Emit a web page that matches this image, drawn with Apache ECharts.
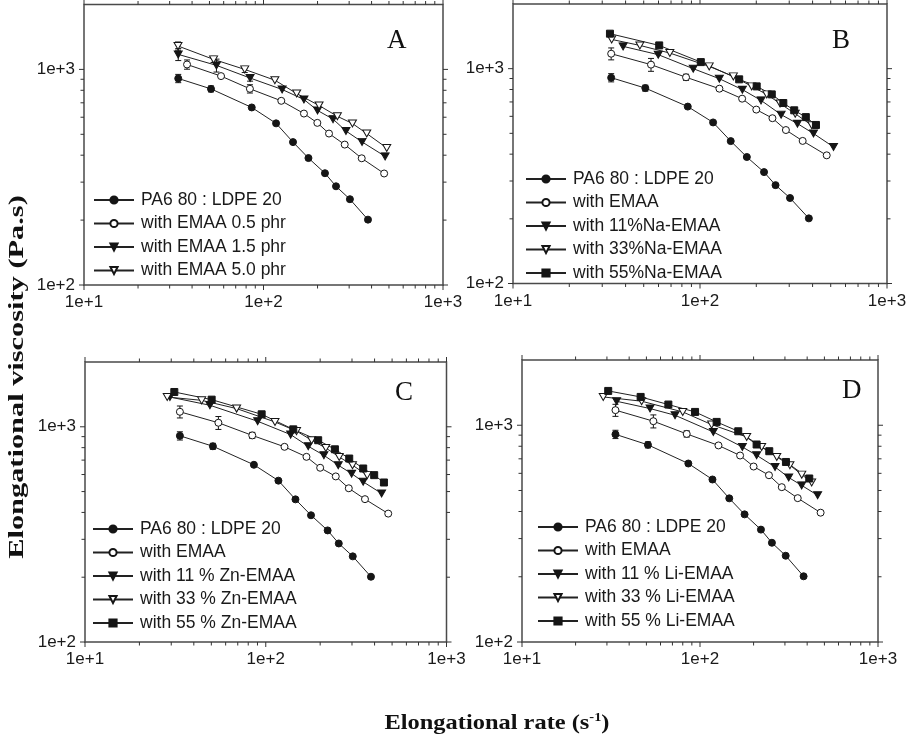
<!DOCTYPE html>
<html><head><meta charset="utf-8">
<script src="https://cdn.jsdelivr.net/npm/echarts@6/dist/echarts.min.js"></script>
<style>html,body{margin:0;padding:0;background:#fff}#c{width:912px;height:746px}</style>
</head><body><div id="c"></div>
<script>
// ---------- data (elongational rate s^-1, elongational viscosity Pa.s) ----------
const pa6Rate = [33.5, 51, 86, 117.5, 146, 178, 220, 253.5, 303, 382];
const pa6Visc = [908, 812, 666, 562, 460, 388, 330, 287, 250, 201];
const pa6Err  = [40, 26, 0, 0, 0, 0, 0, 0, 0, 0];

const emaa05Rate = [37.5, 58, 84, 125.6, 168, 199.5, 231.7, 283.5, 352.5, 470];
const emaa05Visc = [1054, 931, 813, 715, 624, 565, 504, 448, 387, 329];
const emaa05Err  = [52, 0, 36, 0, 0, 0, 0, 0, 0, 0];

const emaa15Rate = [33.5, 54.7, 84.2, 127, 168, 200, 244, 288, 354, 476];
const emaa15Visc = [1174, 1044, 912, 807, 725, 645, 588, 518, 461, 395];
const emaa15Err  = [75, 72, 30, 0, 0, 0, 0, 0, 0, 0];

const emaa50Rate = [33.4, 52.7, 78.6, 115.7, 153, 204, 258, 313, 376, 486];
const emaa50Visc = [1284, 1113, 1000, 891, 773, 680, 606, 561, 504, 432];
const emaa50Err  = [56, 37, 33, 0, 0, 0, 0, 0, 0, 0];

const na11Rate = [38.8, 59.8, 92, 126.9, 168.5, 212, 271.5, 332, 404.5, 517.6];
const na11Visc = [1270, 1162, 1000, 898, 799, 712, 611, 555, 499, 432];
const na33Rate = [33.7, 47.7, 69, 112, 150.8, 189, 227.6, 268, 323, 396];
const na33Visc = [1368, 1283, 1182, 1025, 921, 827, 759, 688, 617, 545];
const na55Rate = [33, 60.5, 101, 162, 201, 242, 279, 319, 368, 417];
const na55Visc = [1455, 1283, 1073, 892, 827, 759, 692, 640, 595, 547];

const zn11Rate = [29.5, 49.1, 90.2, 137.3, 171.8, 209.8, 251.8, 298.6, 346, 437.5];
const zn11Visc = [1375, 1259, 1061, 920, 812, 737, 663, 606, 555, 490];
const zn33Rate = [28.5, 44.2, 69, 112.5, 148, 179.4, 215, 255, 302, 364];
const zn33Visc = [1375, 1327, 1215, 1053, 955, 866, 797, 724, 663, 596];
const zn55Rate = [31.2, 50.2, 94.9, 142, 195, 241.3, 289.6, 346, 398, 450.6];
const zn55Visc = [1451, 1337, 1143, 973, 866, 786, 712, 640, 596, 551];

const li11Rate = [34, 52.4, 72.4, 118.8, 173, 208, 264, 315, 372.5, 458];
const li11Visc = [1290, 1194, 1112, 931, 794, 727, 642, 574, 528, 475];
const li33Rate = [28.6, 47, 80, 116.3, 183, 222, 270, 320, 373, 424];
const li33Visc = [1351, 1291, 1152, 1007, 883, 794, 714, 654, 592, 544];
const li55Rate = [30.5, 46.4, 66.4, 93.8, 124, 164, 208, 245, 304, 411];
const li55Visc = [1440, 1351, 1246, 1152, 1036, 938, 815, 759, 677, 568];

// ---------- labels / ticks ----------
const panelLetters = ['A', 'B', 'C', 'D'];
const xTickValues = [10, 100, 1000];
const xTickLabels = ['1e+1', '1e+2', '1e+3'];
const yTickValues = [100, 1000];
const yTickLabels = ['1e+2', '1e+3'];
const xMinorTicks = [20, 30, 40, 50, 60, 70, 80, 90, 200, 300, 400, 500, 600, 700, 800, 900];
const yMinorTicks = [200, 300, 400, 500, 600, 700, 800, 900];
const yTitle = 'Elongational viscosity (Pa.s)';
const xTitle = 'Elongational rate (s';

const legendNames = [
  ['PA6 80 : LDPE 20', 'with EMAA 0.5 phr', 'with EMAA 1.5 phr', 'with EMAA 5.0 phr'],
  ['PA6 80 : LDPE 20', 'with EMAA', 'with 11%Na-EMAA', 'with 33%Na-EMAA', 'with 55%Na-EMAA'],
  ['PA6 80 : LDPE 20', 'with EMAA', 'with 11 % Zn-EMAA', 'with 33 % Zn-EMAA', 'with 55 % Zn-EMAA'],
  ['PA6 80 : LDPE 20', 'with EMAA', 'with 11 % Li-EMAA', 'with 33 % Li-EMAA', 'with 55 % Li-EMAA']
];

// ---------- layout ----------
const grids = [
  {left: 84, top: 4.5, width: 359, height: 280.5},
  {left: 513, top: 4, width: 374, height: 279.5},
  {left: 85, top: 362, width: 361.5, height: 280},
  {left: 522, top: 360, width: 356, height: 282}
];
const legendPos = [
  {left: 93, top: 191}, {left: 525, top: 170}, {left: 92, top: 520}, {left: 537, top: 518}
];
const letterPos = [[397, 41], [842, 41], [405, 393], [852, 391]];

const TRI_DOWN = 'path://M0,0L10,0L5,9Z';
const INK = '#151515';

function lineSeries(name, rates, visc, symbol, filled, gi) {
  return {
    type: 'line', name: name, xAxisIndex: gi, yAxisIndex: gi,
    data: rates.map((r, i) => [r, visc[i]]),
    symbol: symbol, symbolSize: symbol === 'circle' ? 7 : (symbol === 'rect' ? 7 : [8, 7]),
    showSymbol: true, animation: false, z: 3,
    lineStyle: {color: '#222', width: 1},
    itemStyle: {color: filled ? INK : '#fff', borderColor: INK, borderWidth: 1}
  };
}

function errItems(rates, visc, errs) {
  const out = [];
  rates.forEach((r, i) => { if (errs[i] > 0) out.push([r, visc[i] - errs[i], visc[i] + errs[i]]); });
  return out;
}

function renderErr(params, api) {
  const p1 = api.coord([api.value(0), api.value(1)]);
  const p2 = api.coord([api.value(0), api.value(2)]);
  const c = 3, st = {stroke: INK, lineWidth: 1};
  return {type: 'group', children: [
    {type: 'line', shape: {x1: p1[0], y1: p1[1], x2: p2[0], y2: p2[1]}, style: st},
    {type: 'line', shape: {x1: p1[0] - c, y1: p1[1], x2: p1[0] + c, y2: p1[1]}, style: st},
    {type: 'line', shape: {x1: p2[0] - c, y1: p2[1], x2: p2[0] + c, y2: p2[1]}, style: st}
  ]};
}

function renderTicks(params, api) {
  const cs = params.coordSys;
  const kind = api.value(2);
  const len = (kind === 0 || kind === 2) ? 5 : 3.5;
  const st = {stroke: '#333', lineWidth: 1};
  const p = api.coord([api.value(0), api.value(1)]);
  if (kind < 2) {
    const x = p[0];
    return {type: 'group', children: [
      {type: 'line', shape: {x1: x, y1: cs.y + cs.height, x2: x, y2: cs.y + cs.height + len}, style: st},
      {type: 'line', shape: {x1: x, y1: cs.y, x2: x, y2: cs.y - len}, style: st}
    ]};
  }
  const y = p[1];
  return {type: 'group', children: [
    {type: 'line', shape: {x1: cs.x, y1: y, x2: cs.x - len, y2: y}, style: st},
    {type: 'line', shape: {x1: cs.x + cs.width, y1: y, x2: cs.x + cs.width + len, y2: y}, style: st}
  ]};
}

const tickData = [];
xTickValues.forEach(v => tickData.push([v, 100, 0]));
xMinorTicks.forEach(v => tickData.push([v, 100, 1]));
yTickValues.forEach(v => tickData.push([10, v, 2]));
yMinorTicks.forEach(v => tickData.push([10, v, 3]));

const series = [];
// Panel A
series.push(lineSeries(legendNames[0][0], pa6Rate, pa6Visc, 'circle', true, 0));
series.push(lineSeries(legendNames[0][1], emaa05Rate, emaa05Visc, 'circle', false, 0));
series.push(lineSeries(legendNames[0][2], emaa15Rate, emaa15Visc, TRI_DOWN, true, 0));
series.push(lineSeries(legendNames[0][3], emaa50Rate, emaa50Visc, TRI_DOWN, false, 0));
// Panels B, C, D
const ionSets = [
  [na11Rate, na11Visc, na33Rate, na33Visc, na55Rate, na55Visc],
  [zn11Rate, zn11Visc, zn33Rate, zn33Visc, zn55Rate, zn55Visc],
  [li11Rate, li11Visc, li33Rate, li33Visc, li55Rate, li55Visc]
];
ionSets.forEach((s, k) => {
  const gi = k + 1, names = legendNames[gi];
  series.push(lineSeries(names[0], pa6Rate, pa6Visc, 'circle', true, gi));
  series.push(lineSeries(names[1], emaa15Rate, emaa15Visc, 'circle', false, gi));
  series.push(lineSeries(names[2], s[0], s[1], TRI_DOWN, true, gi));
  series.push(lineSeries(names[3], s[2], s[3], TRI_DOWN, false, gi));
  series.push(lineSeries(names[4], s[4], s[5], 'rect', true, gi));
});
// error bars
const errSets = [
  [].concat(errItems(pa6Rate, pa6Visc, pa6Err), errItems(emaa05Rate, emaa05Visc, emaa05Err),
            errItems(emaa15Rate, emaa15Visc, emaa15Err), errItems(emaa50Rate, emaa50Visc, emaa50Err)),
  [].concat(errItems(pa6Rate, pa6Visc, pa6Err), errItems(emaa15Rate, emaa15Visc, emaa15Err)),
  [].concat(errItems(pa6Rate, pa6Visc, pa6Err), errItems(emaa15Rate, emaa15Visc, emaa15Err)),
  [].concat(errItems(pa6Rate, pa6Visc, pa6Err), errItems(emaa15Rate, emaa15Visc, emaa15Err))
];
errSets.forEach((d, gi) => series.push({
  type: 'custom', xAxisIndex: gi, yAxisIndex: gi, renderItem: renderErr,
  data: d, encode: {x: 0, y: [1, 2]}, z: 2, animation: false, silent: true
}));
grids.forEach((g, gi) => series.push({
  type: 'custom', xAxisIndex: gi, yAxisIndex: gi, renderItem: renderTicks,
  data: tickData, encode: {x: 0, y: 1}, z: 1, animation: false, silent: true, clip: false
}));

const labelFont = {fontFamily: 'Liberation Sans, Arial, sans-serif', fontSize: 17, color: '#1a1a1a'};

const option = {
  animation: false,
  backgroundColor: '#fff',
  grid: grids.map(g => Object.assign({show: true, borderColor: '#4a4a4a', borderWidth: 1.5,
    backgroundColor: 'transparent', containLabel: false}, g)),
  xAxis: grids.map((g, gi) => ({
    type: 'log', logBase: 10, min: 10, max: 1000, gridIndex: gi,
    axisLine: {show: false}, axisTick: {show: false}, splitLine: {show: false}, minorTick: {show: false},
    axisLabel: Object.assign({interval: 0, margin: 9, showMinLabel: true, showMaxLabel: true,
      formatter: v => { const i = xTickValues.findIndex(t => Math.abs(t - v) / t < 1e-6); return i < 0 ? '' : xTickLabels[i]; }
    }, labelFont)
  })),
  yAxis: grids.map((g, gi) => ({
    type: 'log', logBase: 10, min: 100, max: 2000, gridIndex: gi,
    axisLine: {show: false}, axisTick: {show: false}, splitLine: {show: false}, minorTick: {show: false},
    axisLabel: Object.assign({interval: 0, margin: 9, showMinLabel: true, showMaxLabel: true,
      formatter: v => { const i = yTickValues.findIndex(t => Math.abs(t - v) / t < 1e-6); return i < 0 ? '' : yTickLabels[i]; }
    }, labelFont)
  })),
  legend: legendNames.map((names, gi) => Object.assign({
    data: names, orient: 'vertical', itemWidth: 40, itemHeight: 9, itemGap: 5.5,
    padding: 0, selectedMode: false,
    textStyle: {fontFamily: 'Liberation Sans, Arial, sans-serif', fontSize: 17.5, color: '#1a1a1a', padding: [0, 0, 0, 2]}
  }, legendPos[gi])),
  graphic: [].concat(
    panelLetters.map((t, i) => ({type: 'text', left: letterPos[i][0] - 10, top: letterPos[i][1] - 14,
      style: {text: t, font: '27px "Liberation Serif", "Times New Roman", serif', fill: '#111'}})),
    [{type: 'text', x: 17, y: 377, rotation: Math.PI / 2, scaleX: 1.38,
      style: {text: yTitle, font: 'bold 22px "Liberation Serif", "Times New Roman", serif', fill: '#111',
        align: 'center', verticalAlign: 'middle'}},
     {type: 'text', x: 497, y: 723, scaleX: 1.11,
      style: {text: '{a|' + xTitle + '}{b|-1}{a|)}', align: 'center', verticalAlign: 'middle',
        rich: {a: {font: 'bold 22px "Liberation Serif", "Times New Roman", serif', fill: '#111'},
               b: {font: 'bold 13px "Liberation Serif", "Times New Roman", serif', fill: '#111', padding: [0, 0, 10, 0]}}}}]
  ),
  series: series
};

const chart = echarts.init(document.getElementById('c'), null, {renderer: 'canvas'});
chart.setOption(option);
</script>
</body></html>
